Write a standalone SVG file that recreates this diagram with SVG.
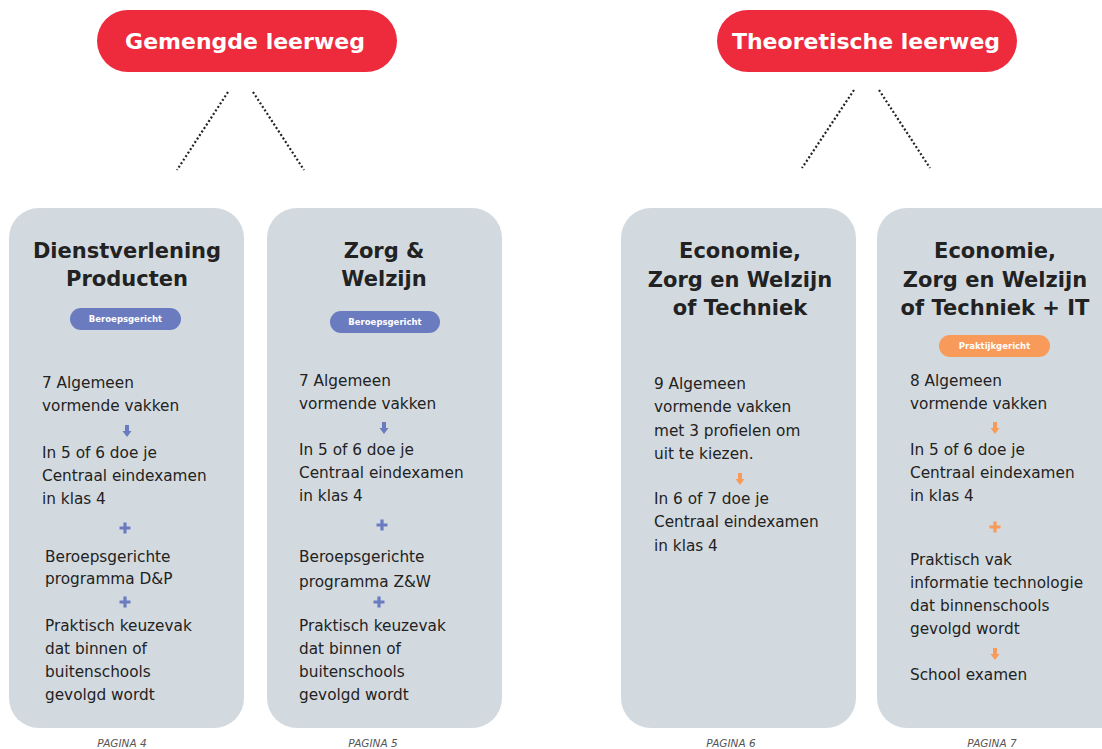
<svg xmlns="http://www.w3.org/2000/svg" width="1102" height="749" viewBox="0 0 1102 749">
<style>
.pill{fill:#ee2a3d}
.pt{font-family:"DejaVu Sans",sans-serif;font-weight:bold;font-size:22px;fill:#fff;text-anchor:middle}
.card{fill:#d3dadf}
.title{font-family:"DejaVu Sans",sans-serif;font-weight:bold;font-size:21px;fill:#222;text-anchor:middle}
.body{font-family:"DejaVu Sans",sans-serif;font-size:15.3px;fill:#222}
.badge-b{fill:#6b7bbf}
.badge-o{fill:#f79a5a}
.bt{font-family:"DejaVu Sans",sans-serif;font-weight:bold;font-size:8.5px;fill:#fff;text-anchor:middle}
.pg{font-family:"DejaVu Sans",sans-serif;font-style:italic;font-size:10.5px;fill:#555;text-anchor:middle}
.dot{stroke:#222;stroke-width:2.2;stroke-dasharray:2 2.2;fill:none}
.blue{fill:#6b7bbf}
.orange{fill:#f79a5a}
</style>
<defs>
<path id="arr" d="M-2,-6 H2 V0 H4.5 L0,6 L-4.5,0 H-2 Z"/>
<path id="plus" d="M-1.6,-5.5 H1.6 V-1.6 H5.5 V1.6 H1.6 V5.5 H-1.6 V1.6 H-5.5 V-1.6 H-1.6 Z"/>
</defs>

<g id="connectors">
<path class="dot" d="M228,92 L177,170"/>
<path class="dot" d="M253,92 L304,170"/>
<path class="dot" d="M854,90 L802,168"/>
<path class="dot" d="M879,90 L930,168"/>
</g>

<g id="gemengde">
<rect class="pill" x="97" y="10" width="300" height="62" rx="31"/>
<text class="pt" x="245" y="49">Gemengde leerweg</text>
</g>
<g id="theoretische">
<rect class="pill" x="717" y="10" width="300" height="62" rx="31"/>
<text class="pt" x="866" y="49">Theoretische leerweg</text>
</g>

<g id="card-dp">
<rect class="card" x="9" y="208" width="235" height="520" rx="30"/>
<text class="title" x="127" y="258">Dienstverlening</text>
<text class="title" x="127" y="286">Producten</text>
<rect class="badge-b" x="70" y="308" width="111" height="22" rx="11"/>
<text class="bt" x="125.5" y="322">Beroepsgericht</text>
<text class="body" x="42" y="388">7 Algemeen</text>
<text class="body" x="42" y="411">vormende vakken</text>
<use href="#arr" class="blue" x="127" y="431"/>
<text class="body" x="42" y="458">In 5 of 6 doe je</text>
<text class="body" x="42" y="481">Centraal eindexamen</text>
<text class="body" x="42" y="504">in klas 4</text>
<use href="#plus" class="blue" x="125" y="528"/>
<text class="body" x="45" y="562">Beroepsgerichte</text>
<text class="body" x="45" y="584">programma D&amp;P</text>
<use href="#plus" class="blue" x="125" y="602"/>
<text class="body" x="45" y="631">Praktisch keuzevak</text>
<text class="body" x="45" y="654">dat binnen of</text>
<text class="body" x="45" y="677">buitenschools</text>
<text class="body" x="45" y="700">gevolgd wordt</text>
</g>

<g id="card-zw">
<rect class="card" x="267" y="208" width="235" height="520" rx="30"/>
<text class="title" x="384" y="258">Zorg &amp;</text>
<text class="title" x="384" y="286">Welzijn</text>
<rect class="badge-b" x="330" y="311" width="110" height="22" rx="11"/>
<text class="bt" x="385" y="325">Beroepsgericht</text>
<text class="body" x="299" y="386">7 Algemeen</text>
<text class="body" x="299" y="409">vormende vakken</text>
<use href="#arr" class="blue" x="384" y="428"/>
<text class="body" x="299" y="455">In 5 of 6 doe je</text>
<text class="body" x="299" y="478">Centraal eindexamen</text>
<text class="body" x="299" y="501">in klas 4</text>
<use href="#plus" class="blue" x="382" y="525"/>
<text class="body" x="299" y="562">Beroepsgerichte</text>
<text class="body" x="299" y="587">programma Z&amp;W</text>
<use href="#plus" class="blue" x="379" y="602"/>
<text class="body" x="299" y="631">Praktisch keuzevak</text>
<text class="body" x="299" y="654">dat binnen of</text>
<text class="body" x="299" y="677">buitenschools</text>
<text class="body" x="299" y="700">gevolgd wordt</text>
</g>

<g id="card-theo1">
<rect class="card" x="621" y="208" width="235" height="520" rx="30"/>
<text class="title" x="740" y="258">Economie,</text>
<text class="title" x="740" y="287">Zorg en Welzijn</text>
<text class="title" x="740" y="315">of Techniek</text>
<text class="body" x="654" y="389">9 Algemeen</text>
<text class="body" x="654" y="412">vormende vakken</text>
<text class="body" x="654" y="436">met 3 profielen om</text>
<text class="body" x="654" y="459">uit te kiezen.</text>
<use href="#arr" class="orange" x="740" y="479"/>
<text class="body" x="654" y="504">In 6 of 7 doe je</text>
<text class="body" x="654" y="527">Centraal eindexamen</text>
<text class="body" x="654" y="551">in klas 4</text>
</g>

<g id="card-theo2">
<rect class="card" x="877" y="208" width="260" height="520" rx="30"/>
<text class="title" x="995" y="258">Economie,</text>
<text class="title" x="995" y="287">Zorg en Welzijn</text>
<text class="title" x="995" y="315">of Techniek + IT</text>
<rect class="badge-o" x="939" y="335" width="111" height="22" rx="11"/>
<text class="bt" x="994.5" y="349">Praktijkgericht</text>
<text class="body" x="910" y="386">8 Algemeen</text>
<text class="body" x="910" y="409">vormende vakken</text>
<use href="#arr" class="orange" x="995" y="428"/>
<text class="body" x="910" y="455">In 5 of 6 doe je</text>
<text class="body" x="910" y="478">Centraal eindexamen</text>
<text class="body" x="910" y="501">in klas 4</text>
<use href="#plus" class="orange" x="995" y="527"/>
<text class="body" x="910" y="565">Praktisch vak</text>
<text class="body" x="910" y="588">informatie technologie</text>
<text class="body" x="910" y="611">dat binnenschools</text>
<text class="body" x="910" y="634">gevolgd wordt</text>
<use href="#arr" class="orange" x="995" y="654"/>
<text class="body" x="910" y="680">School examen</text>
</g>

<g id="pages">
<text class="pg" x="122" y="747">PAGINA 4</text>
<text class="pg" x="373" y="747">PAGINA 5</text>
<text class="pg" x="731" y="747">PAGINA 6</text>
<text class="pg" x="992" y="747">PAGINA 7</text>
</g>
</svg>
